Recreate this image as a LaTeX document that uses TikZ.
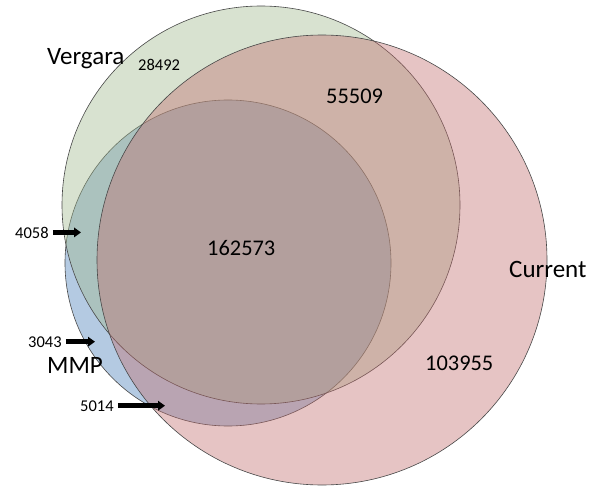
\documentclass[tikz,border=0pt]{standalone}
\usepackage{fontspec}
\setmainfont{Carlito}
\usetikzlibrary{arrows.meta}
\definecolor{mmpC}{RGB}{68,123,183}
\definecolor{vgC}{RGB}{158,183,138}
\definecolor{curC}{RGB}{193,108,108}
\definecolor{edgeC}{RGB}{72,72,72}
\begin{document}
\begin{tikzpicture}[x=1pt,y=-1pt,
  setc/.style={circle, inner sep=0pt, outer sep=0pt, draw=edgeC, line width=0.6pt, fill opacity=0.4},
  big/.style={font=\fontsize{25}{30}\selectfont, inner sep=0pt, anchor=base west},
  mid/.style={font=\fontsize{22.4}{27}\selectfont, inner sep=0pt, anchor=base west},
  small/.style={font=\fontsize{16.5}{20}\selectfont, inner sep=0pt, anchor=base west},
  arr/.style={line width=4.5pt, -{Triangle[length=7pt,width=9.5pt]}, shorten <=4pt}]
\useasboundingbox (0,0) rectangle (602,489);
\fill[white] (0,0) rectangle (602,489);
% sets (bottom to top)
\node[setc, fill=mmpC, minimum size=326pt] (mmp) at (228,263) {};
\node[setc, fill=vgC, minimum size=398pt] (vg) at (261,205) {};
\node[setc, fill=curC, minimum size=450pt] (cur) at (322,260) {};
% labels
\node[big] (lv) at (47,65) {Vergara};
\node[small] (n28492) at (138,71) {28492};
\node[mid] (n55509) at (326,104) {55509};
\node[mid] (n162573) at (207,255) {162573};
\node[big] (lc) at (509,277) {Current};
\node[mid] (n103955) at (425,370) {103955};
\node[big] (lm) at (47,373) {MMP};
\node[small] (n4058) at (15,238) {4058};
\node[small] (n3043) at (28,347) {3043};
\node[small] (n5014) at (80,411) {5014};
% arrow targets
\coordinate (t4058) at (81,233);
\coordinate (t3043) at (95,340);
\coordinate (t5014) at (165,405);
\draw[arr] (n4058.east) -- (n4058.east -| t4058);
\draw[arr] (n3043.east) -- (n3043.east -| t3043);
\draw[arr] (n5014.east) -- (n5014.east -| t5014);
\end{tikzpicture}
\end{document}
